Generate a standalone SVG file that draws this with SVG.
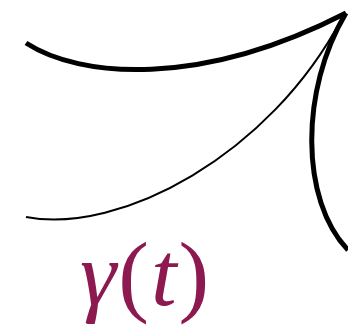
<svg xmlns="http://www.w3.org/2000/svg" width="348" height="332" viewBox="0 0 348 332">
<style>
.thick{fill:none;stroke:#000;stroke-width:5;stroke-linecap:butt}
.thin{fill:none;stroke:#000;stroke-width:2}
.lbl{font-family:"Liberation Serif",serif;font-size:92px;fill:#8c1a50;letter-spacing:2px}
</style>
<rect width="348" height="332" fill="#fff"/>
<g id="connectors">
<path class="thick" d="M26,43 C80,78 200,88 346,13"/>
<path class="thin" d="M26,217 C120,235 270,155 342,18"/>
<path class="thick" d="M346,13 C300,90 300,200 348,250"/>
</g>
<g id="label">
<text class="lbl" x="80" y="305"><tspan font-style="italic">γ</tspan>(<tspan font-style="italic">t</tspan>)</text>
</g>
</svg>
